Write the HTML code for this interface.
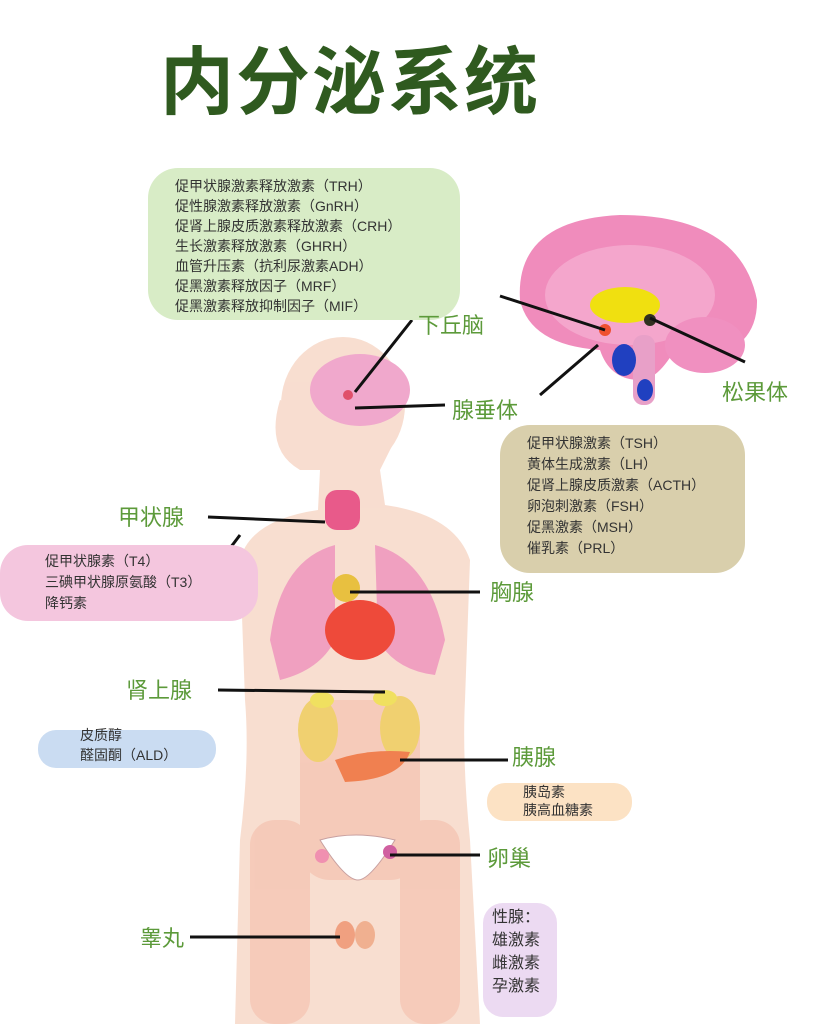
<!DOCTYPE html>
<html><head><meta charset="utf-8"><style>
html,body{margin:0;padding:0;background:#fff;}
svg{display:block}
text{font-family:"Liberation Sans","Noto Sans CJK SC",sans-serif;}
</style></head><body>
<svg width="838" height="1024" viewBox="0 0 838 1024" xmlns="http://www.w3.org/2000/svg">
<text x="160" y="108" font-size="74" font-weight="bold" fill="#2f5a1f" letter-spacing="2">内分泌系统</text>

<g fill="#f8dcce" opacity="0.95">
  <ellipse cx="343" cy="405" rx="62" ry="68"/>
  <path d="M280 400 Q265 450 300 470 L320 470 L318 510 Q250 520 240 560 L245 700 Q250 760 240 840 L235 1024 L480 1024 L470 840 Q462 760 465 700 L470 560 Q455 515 385 505 L380 470 L395 440 Z"/>
</g>
<g fill="#f3b8a4" opacity="0.5">
  <rect x="300" y="700" width="120" height="180" rx="30"/>
  <rect x="250" y="820" width="60" height="204" rx="25"/>
  <rect x="400" y="820" width="60" height="204" rx="25"/>
</g>
<ellipse cx="360" cy="390" rx="50" ry="36" fill="#f0a8cc"/>
<circle cx="348" cy="395" r="5" fill="#e0506a"/>
<rect x="325" y="490" width="35" height="40" rx="12" fill="#e85a8a"/>
<path d="M335 545 Q280 560 270 640 L280 680 Q320 670 335 640 Z" fill="#f0a0c0"/>
<path d="M375 545 Q430 560 445 640 L435 675 Q395 670 378 640 Z" fill="#f0a0c0"/>
<ellipse cx="346" cy="588" rx="14" ry="14" fill="#e8c040"/>
<ellipse cx="360" cy="630" rx="35" ry="30" fill="#ee4a3a"/>
<ellipse cx="318" cy="730" rx="20" ry="32" fill="#f0d070"/>
<ellipse cx="400" cy="728" rx="20" ry="32" fill="#f0d070"/>
<ellipse cx="322" cy="700" rx="12" ry="8" fill="#f0e060"/>
<ellipse cx="385" cy="698" rx="12" ry="8" fill="#f0e060"/>
<path d="M335 760 Q370 748 410 752 Q400 780 345 782 Z" fill="#f08050"/>
<path d="M320 840 Q355 830 395 840 Q370 880 358 880 Q345 880 320 840 Z" fill="#fff" stroke="#c8a0a0"/>
<circle cx="322" cy="856" r="7" fill="#f090b0"/>
<circle cx="390" cy="852" r="7" fill="#d060a0"/>
<ellipse cx="345" cy="935" rx="10" ry="14" fill="#f0a080"/>
<ellipse cx="365" cy="935" rx="10" ry="14" fill="#f0b090"/>

<!-- brain right -->
<path d="M520 300 Q515 220 620 215 Q740 215 757 300 Q758 350 700 360 L680 340 Q660 380 640 380 Q610 380 600 350 Q530 345 520 300 Z" fill="#f08cbc"/>
<ellipse cx="630" cy="295" rx="85" ry="50" fill="#f4a6cc"/>
<ellipse cx="705" cy="345" rx="40" ry="28" fill="#f090c0"/>
<rect x="633" y="335" width="22" height="70" rx="10" fill="#e8a0c8"/>
<ellipse cx="625" cy="305" rx="35" ry="18" fill="#f0e010"/>
<circle cx="650" cy="320" r="6" fill="#303020"/>
<circle cx="605" cy="330" r="6" fill="#f05030"/>
<ellipse cx="624" cy="360" rx="12" ry="16" fill="#2040c0"/>
<ellipse cx="645" cy="390" rx="8" ry="11" fill="#2040c0"/>

<g stroke="#111" stroke-width="3" fill="none">
  <line x1="412" y1="320" x2="355" y2="392"/>
  <line x1="445" y1="405" x2="355" y2="408"/>
  <line x1="500" y1="296" x2="605" y2="330"/>
  <line x1="540" y1="395" x2="598" y2="345"/>
  <line x1="650" y1="318" x2="745" y2="362"/>
  <line x1="208" y1="517" x2="325" y2="522"/>
  <line x1="215" y1="568" x2="240" y2="535"/>
  <line x1="350" y1="592" x2="480" y2="592"/>
  <line x1="218" y1="690" x2="385" y2="692"/>
  <line x1="400" y1="760" x2="508" y2="760"/>
  <line x1="390" y1="855" x2="480" y2="855"/>
  <line x1="190" y1="937" x2="340" y2="937"/>
</g>

<rect x="148" y="168" width="312" height="152" rx="30" fill="#d8ecc6"/>
<rect x="500" y="425" width="245" height="148" rx="30" fill="#d9cfac"/>
<rect x="0" y="545" width="258" height="76" rx="28" fill="#f4c6de"/>
<rect x="38" y="730" width="178" height="38" rx="18" fill="#cadcf2"/>
<rect x="487" y="783" width="145" height="38" rx="18" fill="#fce2c4"/>
<rect x="483" y="903" width="74" height="114" rx="20" fill="#ecdaf2"/>

<g font-size="14" fill="#333">
<text x="175" y="191">促甲状腺激素释放激素（TRH）</text>
<text x="175" y="211">促性腺激素释放激素（GnRH）</text>
<text x="175" y="231">促肾上腺皮质激素释放激素（CRH）</text>
<text x="175" y="251">生长激素释放激素（GHRH）</text>
<text x="175" y="271">血管升压素（抗利尿激素ADH）</text>
<text x="175" y="291">促黑激素释放因子（MRF）</text>
<text x="175" y="311">促黑激素释放抑制因子（MIF）</text>
<text x="527" y="448">促甲状腺激素（TSH）</text>
<text x="527" y="469">黄体生成激素（LH）</text>
<text x="527" y="490">促肾上腺皮质激素（ACTH）</text>
<text x="527" y="511">卵泡刺激素（FSH）</text>
<text x="527" y="532">促黑激素（MSH）</text>
<text x="527" y="553">催乳素（PRL）</text>
<text x="45" y="566">促甲状腺素（T4）</text>
<text x="45" y="587">三碘甲状腺原氨酸（T3）</text>
<text x="45" y="608">降钙素</text>
<text x="80" y="740">皮质醇</text>
<text x="80" y="760">醛固酮（ALD）</text>
<text x="523" y="797">胰岛素</text>
<text x="523" y="815">胰高血糖素</text>
<text x="492" y="922" font-size="16">性腺：</text>
<text x="492" y="945" font-size="16">雄激素</text>
<text x="492" y="968" font-size="16">雌激素</text>
<text x="492" y="991" font-size="16">孕激素</text>
</g>

<g font-size="22" fill="#5c9a3a">
<text x="418" y="333">下丘脑</text>
<text x="452" y="418">腺垂体</text>
<text x="722" y="400">松果体</text>
<text x="118" y="525">甲状腺</text>
<text x="490" y="600">胸腺</text>
<text x="126" y="698">肾上腺</text>
<text x="512" y="765">胰腺</text>
<text x="487" y="866">卵巢</text>
<text x="140" y="946">睾丸</text>
</g>
</svg>
</body></html>
